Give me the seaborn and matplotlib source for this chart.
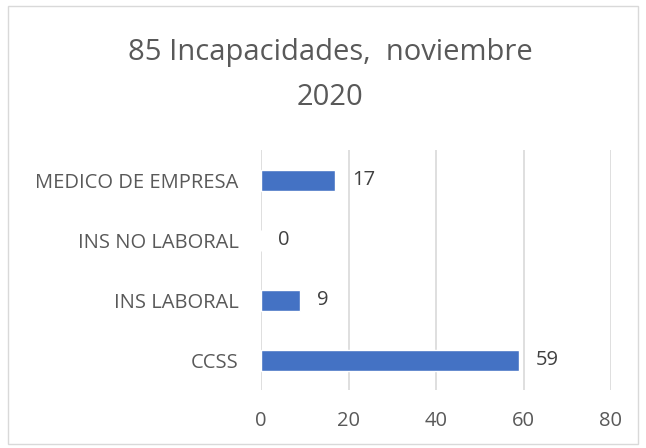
import matplotlib
matplotlib.use("Agg")
import matplotlib.pyplot as plt
import seaborn as sns
import pandas as pd
from matplotlib.patches import Rectangle

categories = ["MEDICO DE EMPRESA", "INS NO LABORAL", "INS LABORAL", "CCSS"]
values = [17, 0, 9, 59]
xticks = [0, 20, 40, 60, 80]
title = "85 Incapacidades,  noviembre\n2020"

sns.set_theme(style="white")
plt.rcParams['font.family'] = ['Open Sans', 'DejaVu Sans']

df = pd.DataFrame({"cat": categories, "val": values})

fig = plt.figure(figsize=(6.46, 4.48), dpi=100)
ax = fig.add_axes([261/646, 1-390/448, 350/646, 240/448])

sns.barplot(data=df, x="val", y="cat", order=categories, orient="h",
            color="#4472C4", saturation=1, width=0.35, ax=ax, zorder=3)

ax.set_xlim(0, 80)
ax.set_xticks(xticks)
ax.set_xticklabels([str(t) for t in xticks])
ax.xaxis.grid(True, color="#D9D9D9", linewidth=1.2, zorder=0)
ax.set_axisbelow(True)
for s in ax.spines.values():
    s.set_visible(False)
ax.set_xlabel("")
ax.set_ylabel("")
ax.tick_params(axis="both", length=0, labelsize=14.5, colors="#595959")
ax.tick_params(axis="x", pad=15)
ax.tick_params(axis="y", pad=16)

for c in ax.containers:
    ax.bar_label(c, labels=[str(v) for v in values], padding=12,
                 fontsize=14.5, color="#404040")

fig.text(330/646, 1-75/448, title, ha="center", va="center",
         fontsize=21, color="#595959", linespacing=1.72)

fig.patches.append(Rectangle((8/646, 4/448), 630/646, 438/448,
                             transform=fig.transFigure, fill=False,
                             edgecolor="#D9D9D9", linewidth=1))

fig.savefig("out.png", dpi=100)
